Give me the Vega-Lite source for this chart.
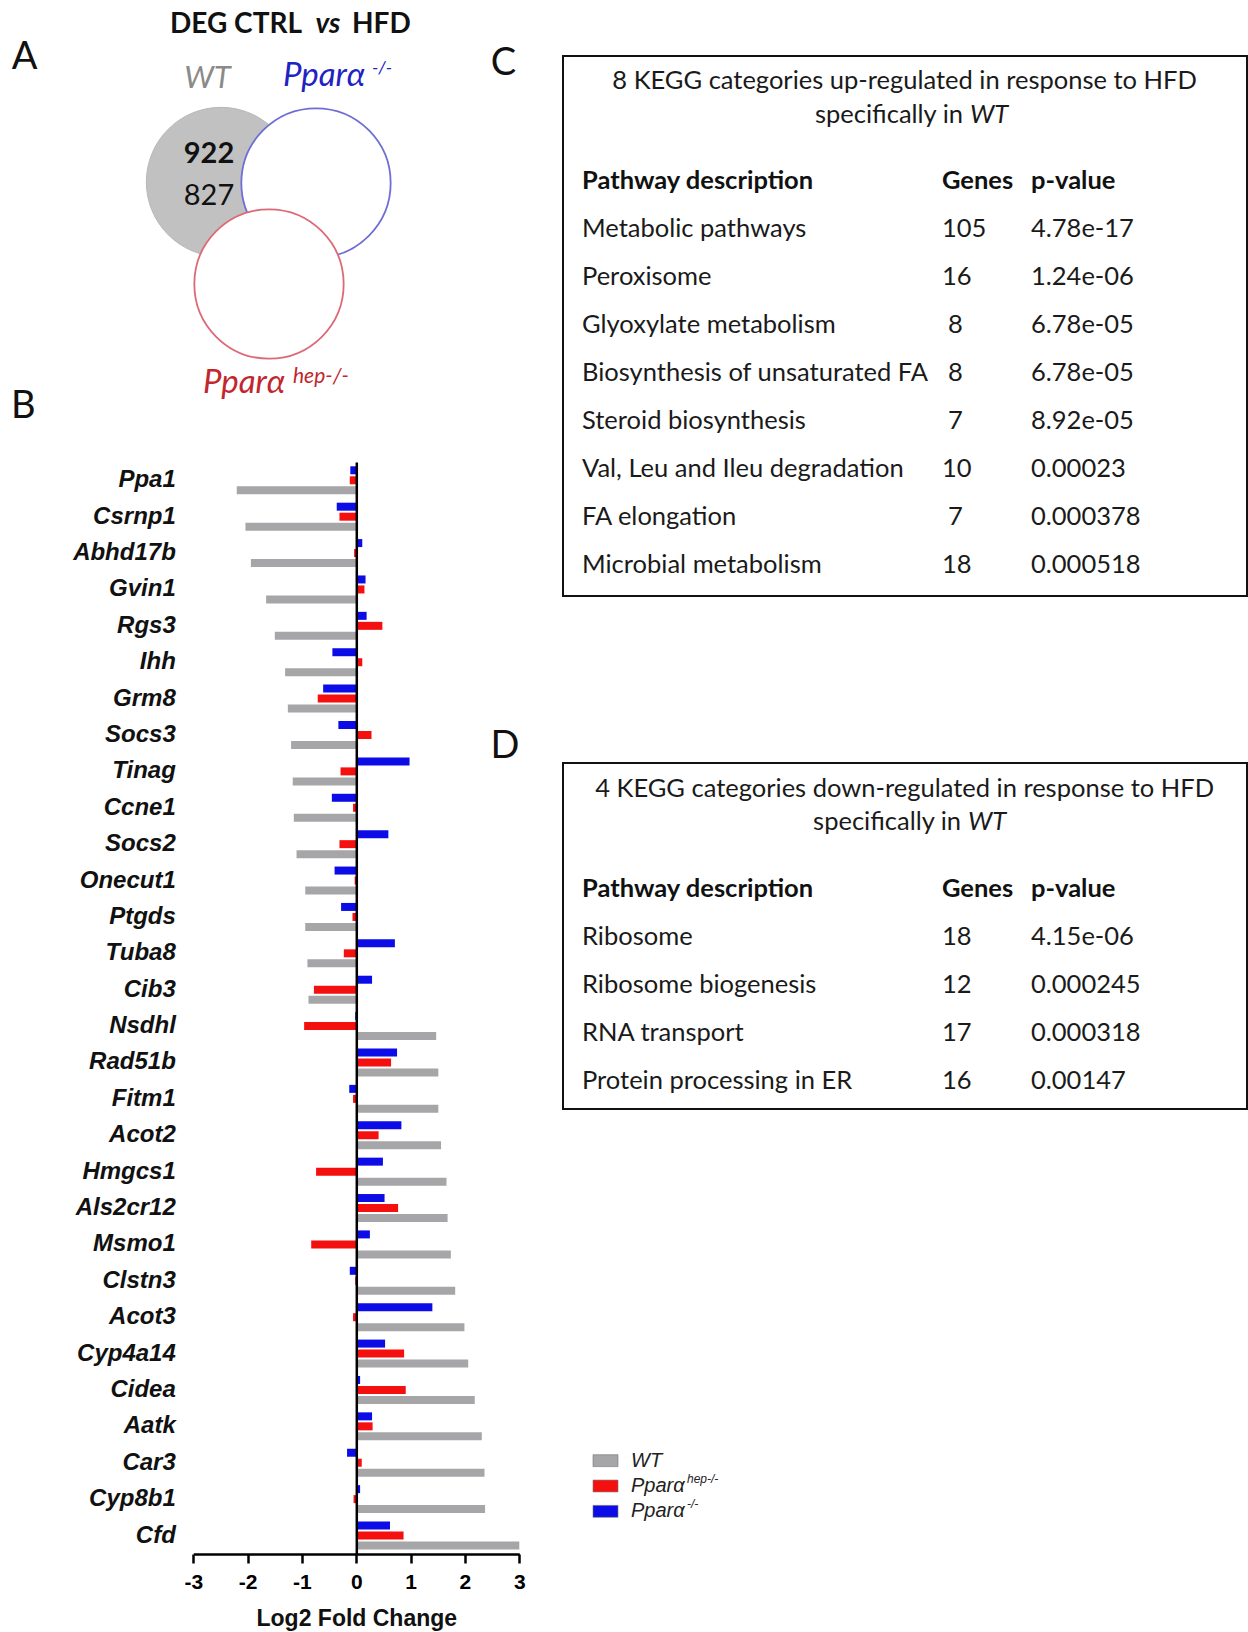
{
"$schema":"https://vega.github.io/schema/vega-lite/v6.json",
"width":1248,"height":1632,"autosize":{"type":"none"},"padding":0,"background":"#ffffff",
"config":{"view":{"stroke":null},"text":{"font":"Lato"}},
"datasets":{
"venn":[{"set":"WT","up":922,"down":827},{"set":"Pparα -/-"},{"set":"Pparα hep-/-"}],
"lfc":[
{"gene":"Ppa1","series":"WT","lfc":-2.2},{"gene":"Ppa1","series":"Pparα hep-/-","lfc":-0.12},{"gene":"Ppa1","series":"Pparα -/-","lfc":-0.11},
{"gene":"Csrnp1","series":"WT","lfc":-2.04},{"gene":"Csrnp1","series":"Pparα hep-/-","lfc":-0.31},{"gene":"Csrnp1","series":"Pparα -/-","lfc":-0.36},
{"gene":"Abhd17b","series":"WT","lfc":-1.94},{"gene":"Abhd17b","series":"Pparα hep-/-","lfc":-0.04},{"gene":"Abhd17b","series":"Pparα -/-","lfc":0.11},
{"gene":"Gvin1","series":"WT","lfc":-1.66},{"gene":"Gvin1","series":"Pparα hep-/-","lfc":0.15},{"gene":"Gvin1","series":"Pparα -/-","lfc":0.17},
{"gene":"Rgs3","series":"WT","lfc":-1.5},{"gene":"Rgs3","series":"Pparα hep-/-","lfc":0.48},{"gene":"Rgs3","series":"Pparα -/-","lfc":0.19},
{"gene":"Ihh","series":"WT","lfc":-1.31},{"gene":"Ihh","series":"Pparα hep-/-","lfc":0.11},{"gene":"Ihh","series":"Pparα -/-","lfc":-0.44},
{"gene":"Grm8","series":"WT","lfc":-1.26},{"gene":"Grm8","series":"Pparα hep-/-","lfc":-0.71},{"gene":"Grm8","series":"Pparα -/-","lfc":-0.61},
{"gene":"Socs3","series":"WT","lfc":-1.2},{"gene":"Socs3","series":"Pparα hep-/-","lfc":0.28},{"gene":"Socs3","series":"Pparα -/-","lfc":-0.33},
{"gene":"Tinag","series":"WT","lfc":-1.17},{"gene":"Tinag","series":"Pparα hep-/-","lfc":-0.29},{"gene":"Tinag","series":"Pparα -/-","lfc":0.98},
{"gene":"Ccne1","series":"WT","lfc":-1.15},{"gene":"Ccne1","series":"Pparα hep-/-","lfc":-0.06},{"gene":"Ccne1","series":"Pparα -/-","lfc":-0.45},
{"gene":"Socs2","series":"WT","lfc":-1.1},{"gene":"Socs2","series":"Pparα hep-/-","lfc":-0.31},{"gene":"Socs2","series":"Pparα -/-","lfc":0.59},
{"gene":"Onecut1","series":"WT","lfc":-0.94},{"gene":"Onecut1","series":"Pparα hep-/-","lfc":-0.03},{"gene":"Onecut1","series":"Pparα -/-","lfc":-0.4},
{"gene":"Ptgds","series":"WT","lfc":-0.94},{"gene":"Ptgds","series":"Pparα hep-/-","lfc":-0.07},{"gene":"Ptgds","series":"Pparα -/-","lfc":-0.28},
{"gene":"Tuba8","series":"WT","lfc":-0.9},{"gene":"Tuba8","series":"Pparα hep-/-","lfc":-0.23},{"gene":"Tuba8","series":"Pparα -/-","lfc":0.71},
{"gene":"Cib3","series":"WT","lfc":-0.88},{"gene":"Cib3","series":"Pparα hep-/-","lfc":-0.78},{"gene":"Cib3","series":"Pparα -/-","lfc":0.29},
{"gene":"Nsdhl","series":"WT","lfc":1.47},{"gene":"Nsdhl","series":"Pparα hep-/-","lfc":-0.96},{"gene":"Nsdhl","series":"Pparα -/-","lfc":-0.02},
{"gene":"Rad51b","series":"WT","lfc":1.51},{"gene":"Rad51b","series":"Pparα hep-/-","lfc":0.64},{"gene":"Rad51b","series":"Pparα -/-","lfc":0.75},
{"gene":"Fitm1","series":"WT","lfc":1.51},{"gene":"Fitm1","series":"Pparα hep-/-","lfc":-0.06},{"gene":"Fitm1","series":"Pparα -/-","lfc":-0.13},
{"gene":"Acot2","series":"WT","lfc":1.56},{"gene":"Acot2","series":"Pparα hep-/-","lfc":0.41},{"gene":"Acot2","series":"Pparα -/-","lfc":0.83},
{"gene":"Hmgcs1","series":"WT","lfc":1.66},{"gene":"Hmgcs1","series":"Pparα hep-/-","lfc":-0.74},{"gene":"Hmgcs1","series":"Pparα -/-","lfc":0.49},
{"gene":"Als2cr12","series":"WT","lfc":1.68},{"gene":"Als2cr12","series":"Pparα hep-/-","lfc":0.77},{"gene":"Als2cr12","series":"Pparα -/-","lfc":0.52},
{"gene":"Msmo1","series":"WT","lfc":1.74},{"gene":"Msmo1","series":"Pparα hep-/-","lfc":-0.83},{"gene":"Msmo1","series":"Pparα -/-","lfc":0.25},
{"gene":"Clstn3","series":"WT","lfc":1.82},{"gene":"Clstn3","series":"Pparα hep-/-","lfc":-0.02},{"gene":"Clstn3","series":"Pparα -/-","lfc":-0.12},
{"gene":"Acot3","series":"WT","lfc":1.99},{"gene":"Acot3","series":"Pparα hep-/-","lfc":-0.06},{"gene":"Acot3","series":"Pparα -/-","lfc":1.4},
{"gene":"Cyp4a14","series":"WT","lfc":2.06},{"gene":"Cyp4a14","series":"Pparα hep-/-","lfc":0.88},{"gene":"Cyp4a14","series":"Pparα -/-","lfc":0.53},
{"gene":"Cidea","series":"WT","lfc":2.18},{"gene":"Cidea","series":"Pparα hep-/-","lfc":0.91},{"gene":"Cidea","series":"Pparα -/-","lfc":0.07},
{"gene":"Aatk","series":"WT","lfc":2.31},{"gene":"Aatk","series":"Pparα hep-/-","lfc":0.3},{"gene":"Aatk","series":"Pparα -/-","lfc":0.29},
{"gene":"Car3","series":"WT","lfc":2.36},{"gene":"Car3","series":"Pparα hep-/-","lfc":0.1},{"gene":"Car3","series":"Pparα -/-","lfc":-0.17},
{"gene":"Cyp8b1","series":"WT","lfc":2.37},{"gene":"Cyp8b1","series":"Pparα hep-/-","lfc":-0.05},{"gene":"Cyp8b1","series":"Pparα -/-","lfc":0.07},
{"gene":"Cfd","series":"WT","lfc":3.0},{"gene":"Cfd","series":"Pparα hep-/-","lfc":0.87},{"gene":"Cfd","series":"Pparα -/-","lfc":0.62}
],
"keggUp":[
{"pathway":"Metabolic pathways","genes":105,"p":"4.78e-17"},
{"pathway":"Peroxisome","genes":16,"p":"1.24e-06"},
{"pathway":"Glyoxylate metabolism","genes":8,"p":"6.78e-05"},
{"pathway":"Biosynthesis of unsaturated FA","genes":8,"p":"6.78e-05"},
{"pathway":"Steroid biosynthesis","genes":7,"p":"8.92e-05"},
{"pathway":"Val, Leu and Ileu degradation","genes":10,"p":"0.00023"},
{"pathway":"FA elongation","genes":7,"p":"0.000378"},
{"pathway":"Microbial metabolism","genes":18,"p":"0.000518"}
],
"keggDown":[
{"pathway":"Ribosome","genes":18,"p":"4.15e-06"},
{"pathway":"Ribosome biogenesis","genes":12,"p":"0.000245"},
{"pathway":"RNA transport","genes":17,"p":"0.000318"},
{"pathway":"Protein processing in ER","genes":16,"p":"0.00147"}
],
"series":[
{"series":"WT","label":"WT","sup":""},
{"series":"Pparα hep-/-","label":"Pparα","sup":"hep-/-"},
{"series":"Pparα -/-","label":"Pparα","sup":"-/-"}
]
},
"layer":[
{"data":{"name":"venn"},"layer":[
 {"transform":[{"filter":"datum.set === 'WT'"}],"mark":{"type":"circle","size":22300,"opacity":1,"fill":"#c1c1c1","stroke":"#b8b8b8","strokeWidth":1},
  "encoding":{"x":{"datum":22.1,"type":"quantitative","scale":{"domain":[0,42],"range":[0,420],"nice":false,"zero":false},"axis":null},"y":{"datum":22.8,"type":"quantitative","scale":{"domain":[0,41],"range":[410,0],"nice":false,"zero":false},"axis":null}}},
 {"transform":[{"filter":"datum.set === 'Pparα -/-'"}],"mark":{"type":"circle","size":22300,"opacity":1,"fill":"#ffffff","stroke":"#6e6ed6","strokeWidth":1.8},
  "encoding":{"x":{"datum":31.6,"type":"quantitative","scale":{"domain":[0,42],"range":[0,420],"nice":false,"zero":false},"axis":null},"y":{"datum":22.7,"type":"quantitative","scale":{"domain":[0,41],"range":[410,0],"nice":false,"zero":false},"axis":null}}},
 {"transform":[{"filter":"datum.set === 'Pparα hep-/-'"}],"mark":{"type":"circle","size":22300,"opacity":1,"fill":"#ffffff","stroke":"#dc6a76","strokeWidth":1.8},
  "encoding":{"x":{"datum":26.9,"type":"quantitative","scale":{"domain":[0,42],"range":[0,420],"nice":false,"zero":false},"axis":null},"y":{"datum":12.6,"type":"quantitative","scale":{"domain":[0,41],"range":[410,0],"nice":false,"zero":false},"axis":null}}},
 {"transform":[{"filter":"datum.set === 'WT'"}],"mark":{"type":"text","font":"Lato","fontSize":29,"fontWeight":"bold","align":"center","baseline":"alphabetic","color":"#111111"},
  "encoding":{"x":{"datum":20.9,"type":"quantitative","scale":{"domain":[0,42],"range":[0,420],"nice":false,"zero":false},"axis":null},"y":{"datum":24.67,"type":"quantitative","scale":{"domain":[0,41],"range":[410,0],"nice":false,"zero":false},"axis":null},"text":{"field":"up"}}},
 {"transform":[{"filter":"datum.set === 'WT'"}],"mark":{"type":"text","font":"Lato","fontSize":29,"align":"center","baseline":"alphabetic","color":"#111111"},
  "encoding":{"x":{"datum":20.9,"type":"quantitative","scale":{"domain":[0,42],"range":[0,420],"nice":false,"zero":false},"axis":null},"y":{"datum":20.5,"type":"quantitative","scale":{"domain":[0,41],"range":[410,0],"nice":false,"zero":false},"axis":null},"text":{"field":"down"}}},
 {"transform":[{"filter":"datum.set === 'WT'"}],"mark":{"type":"text","font":"Lato","fontSize":31,"fontStyle":"italic","align":"center","baseline":"alphabetic","color":"#8a8a8a"},
  "encoding":{"x":{"datum":20.75,"type":"quantitative","scale":{"domain":[0,42],"range":[0,420],"nice":false,"zero":false},"axis":null},"y":{"datum":32.17,"type":"quantitative","scale":{"domain":[0,41],"range":[410,0],"nice":false,"zero":false},"axis":null},"text":{"field":"set"}}},
 {"transform":[{"filter":"datum.set === 'Pparα -/-'"}],"mark":{"type":"text","font":"Lato","fontSize":33,"fontStyle":"italic","align":"left","baseline":"alphabetic","color":"#2222c2"},
  "encoding":{"x":{"datum":28.3,"type":"quantitative","scale":{"domain":[0,42],"range":[0,420],"nice":false,"zero":false},"axis":null},"y":{"datum":32.4,"type":"quantitative","scale":{"domain":[0,41],"range":[410,0],"nice":false,"zero":false},"axis":null},"text":{"value":"Pparα"}}},
 {"transform":[{"filter":"datum.set === 'Pparα -/-'"}],"mark":{"type":"text","font":"Lato","fontSize":18,"fontStyle":"italic","align":"left","baseline":"alphabetic","color":"#2222c2"},
  "encoding":{"x":{"datum":37.2,"type":"quantitative","scale":{"domain":[0,42],"range":[0,420],"nice":false,"zero":false},"axis":null},"y":{"datum":33.6,"type":"quantitative","scale":{"domain":[0,41],"range":[410,0],"nice":false,"zero":false},"axis":null},"text":{"value":"-/-"}}},
 {"transform":[{"filter":"datum.set === 'Pparα hep-/-'"}],"mark":{"type":"text","font":"Lato","fontSize":33,"fontStyle":"italic","align":"left","baseline":"alphabetic","color":"#c1272d"},
  "encoding":{"x":{"datum":20.3,"type":"quantitative","scale":{"domain":[0,42],"range":[0,420],"nice":false,"zero":false},"axis":null},"y":{"datum":1.7,"type":"quantitative","scale":{"domain":[0,41],"range":[410,0],"nice":false,"zero":false},"axis":null},"text":{"value":"Pparα"}}},
 {"transform":[{"filter":"datum.set === 'Pparα hep-/-'"}],"mark":{"type":"text","font":"Lato","fontSize":21,"fontStyle":"italic","align":"left","baseline":"alphabetic","color":"#c1272d"},
  "encoding":{"x":{"datum":29.3,"type":"quantitative","scale":{"domain":[0,42],"range":[0,420],"nice":false,"zero":false},"axis":null},"y":{"datum":2.7,"type":"quantitative","scale":{"domain":[0,41],"range":[410,0],"nice":false,"zero":false},"axis":null},"text":{"value":"hep-/-"}}},
 {"transform":[{"filter":"datum.set === 'WT'"}],"mark":{"type":"text","font":"Lato","fontSize":28,"fontWeight":"bold","align":"right","baseline":"alphabetic","color":"#111111"},
  "encoding":{"x":{"datum":30.2,"type":"quantitative","scale":{"domain":[0,42],"range":[0,420],"nice":false,"zero":false},"axis":null},"y":{"datum":37.67,"type":"quantitative","scale":{"domain":[0,41],"range":[410,0],"nice":false,"zero":false},"axis":null},"text":{"value":"DEG CTRL"}}},
 {"transform":[{"filter":"datum.set === 'WT'"}],"mark":{"type":"text","font":"Lato","fontSize":28,"fontWeight":"bold","fontStyle":"italic","align":"center","baseline":"alphabetic","color":"#111111"},
  "encoding":{"x":{"datum":32.8,"type":"quantitative","scale":{"domain":[0,42],"range":[0,420],"nice":false,"zero":false},"axis":null},"y":{"datum":37.67,"type":"quantitative","scale":{"domain":[0,41],"range":[410,0],"nice":false,"zero":false},"axis":null},"text":{"value":"vs"}}},
 {"transform":[{"filter":"datum.set === 'WT'"}],"mark":{"type":"text","font":"Lato","fontSize":28,"fontWeight":"bold","align":"left","baseline":"alphabetic","color":"#111111"},
  "encoding":{"x":{"datum":35.2,"type":"quantitative","scale":{"domain":[0,42],"range":[0,420],"nice":false,"zero":false},"axis":null},"y":{"datum":37.67,"type":"quantitative","scale":{"domain":[0,41],"range":[410,0],"nice":false,"zero":false},"axis":null},"text":{"value":"HFD"}}},
 {"transform":[{"filter":"datum.set === 'WT'"}],"mark":{"type":"text","font":"Lato","fontSize":38,"align":"center","baseline":"alphabetic","color":"#111111"},
  "encoding":{"x":{"datum":2.45,"type":"quantitative","scale":{"domain":[0,42],"range":[0,420],"nice":false,"zero":false},"axis":null},"y":{"datum":34.13,"type":"quantitative","scale":{"domain":[0,41],"range":[410,0],"nice":false,"zero":false},"axis":null},"text":{"value":"A"}}},
 {"transform":[{"filter":"datum.set === 'WT'"}],"mark":{"type":"text","font":"Lato","fontSize":38,"align":"center","baseline":"alphabetic","color":"#111111"},
  "encoding":{"x":{"datum":2.34,"type":"quantitative","scale":{"domain":[0,42],"range":[0,420],"nice":false,"zero":false},"axis":null},"y":{"datum":-0.84,"type":"quantitative","scale":{"domain":[0,41],"range":[410,0],"nice":false,"zero":false},"axis":null},"text":{"value":"B"}}}
]},
{"data":{"name":"lfc"},"mark":{"type":"bar"},
 "encoding":{
  "y":{"field":"gene","type":"nominal","sort":null,"scale":{"range":[462.1,1553.7],"paddingInner":0.176,"paddingOuter":0.088},
   "axis":{"orient":"left","offset":-356.3,"title":null,"grid":false,"domain":true,"domainColor":"#000000","domainWidth":2.5,"ticks":false,"tickSize":0,"labelPadding":181,"labelFont":"Liberation Sans","labelFontSize":24,"labelFontWeight":"bold","labelFontStyle":"italic","labelColor":"#111111","labelLimit":300,"zindex":1}},
  "yOffset":{"field":"series","type":"nominal","sort":["Pparα -/-","Pparα hep-/-","WT"],"scale":{"paddingInner":0.2,"paddingOuter":0.1}},
  "x":{"field":"lfc","type":"quantitative","scale":{"domain":[-3,3],"range":[193.3,519.3],"nice":false,"zero":false},
   "axis":{"orient":"bottom","offset":-78,"values":[-3,-2,-1,0,1,2,3],"labelExpr":"''+datum.value","labelFlush":false,"grid":false,"domainColor":"#000000","domainWidth":2.5,"tickColor":"#000000","tickWidth":2.5,"tickSize":9,"labelFont":"Liberation Sans","labelFontSize":21,"labelFontWeight":"bold","labelColor":"#000000","labelPadding":8,"title":"Log2 Fold Change","titleFont":"Liberation Sans","titleFontSize":23,"titleFontWeight":"bold","titleColor":"#111111","titlePadding":15}},
  "color":{"field":"series","type":"nominal","scale":{"domain":["WT","Pparα hep-/-","Pparα -/-"],"range":["#a6a6a8","#f51010","#0c0ce6"]},"legend":null}
 }},
{"data":{"name":"keggUp"},"transform":[{"window":[{"op":"row_number","as":"rank"}]}],"layer":[
 {"mark":{"type":"text","font":"Lato","fontSize":25.5,"align":"left","baseline":"middle","color":"#1a1a1a"},
  "encoding":{"x":{"datum":2.78,"type":"quantitative","scale":{"domain":[0,100],"range":[563,1247],"nice":false,"zero":false},"axis":null},"y":{"field":"rank","type":"quantitative","scale":{"domain":[0,1],"range":[181,229],"nice":false,"zero":false},"axis":null},"text":{"field":"pathway"}}},
 {"transform":[{"filter":"datum.genes >= 10"}],"mark":{"type":"text","font":"Lato","fontSize":25.5,"align":"left","baseline":"middle","color":"#1a1a1a"},
  "encoding":{"x":{"datum":55.41,"type":"quantitative","scale":{"domain":[0,100],"range":[563,1247],"nice":false,"zero":false},"axis":null},"y":{"field":"rank","type":"quantitative","scale":{"domain":[0,1],"range":[181,229],"nice":false,"zero":false},"axis":null},"text":{"field":"genes"}}},
 {"transform":[{"filter":"datum.genes < 10"}],"mark":{"type":"text","font":"Lato","fontSize":25.5,"align":"left","baseline":"middle","color":"#1a1a1a"},
  "encoding":{"x":{"datum":56.29,"type":"quantitative","scale":{"domain":[0,100],"range":[563,1247],"nice":false,"zero":false},"axis":null},"y":{"field":"rank","type":"quantitative","scale":{"domain":[0,1],"range":[181,229],"nice":false,"zero":false},"axis":null},"text":{"field":"genes"}}},
 {"mark":{"type":"text","font":"Lato","fontSize":25.5,"align":"left","baseline":"middle","color":"#1a1a1a"},
  "encoding":{"x":{"datum":68.42,"type":"quantitative","scale":{"domain":[0,100],"range":[563,1247],"nice":false,"zero":false},"axis":null},"y":{"field":"rank","type":"quantitative","scale":{"domain":[0,1],"range":[181,229],"nice":false,"zero":false},"axis":null},"text":{"field":"p"}}},
 {"transform":[{"filter":"datum.rank === 1"}],"mark":{"type":"text","font":"Lato","fontSize":25.5,"fontWeight":"bold","align":"left","baseline":"middle","color":"#111111"},
  "encoding":{"x":{"datum":2.78,"type":"quantitative","scale":{"domain":[0,100],"range":[563,1247],"nice":false,"zero":false},"axis":null},"y":{"datum":0,"type":"quantitative","scale":{"domain":[0,1],"range":[181,229],"nice":false,"zero":false},"axis":null},"text":{"value":"Pathway description"}}},
 {"transform":[{"filter":"datum.rank === 1"}],"mark":{"type":"text","font":"Lato","fontSize":25.5,"fontWeight":"bold","align":"left","baseline":"middle","color":"#111111"},
  "encoding":{"x":{"datum":55.41,"type":"quantitative","scale":{"domain":[0,100],"range":[563,1247],"nice":false,"zero":false},"axis":null},"y":{"datum":0,"type":"quantitative","scale":{"domain":[0,1],"range":[181,229],"nice":false,"zero":false},"axis":null},"text":{"value":"Genes"}}},
 {"transform":[{"filter":"datum.rank === 1"}],"mark":{"type":"text","font":"Lato","fontSize":25.5,"fontWeight":"bold","align":"left","baseline":"middle","color":"#111111"},
  "encoding":{"x":{"datum":68.42,"type":"quantitative","scale":{"domain":[0,100],"range":[563,1247],"nice":false,"zero":false},"axis":null},"y":{"datum":0,"type":"quantitative","scale":{"domain":[0,1],"range":[181,229],"nice":false,"zero":false},"axis":null},"text":{"value":"p-value"}}},
 {"transform":[{"filter":"datum.rank === 1"}],"mark":{"type":"text","font":"Lato","fontSize":25.5,"align":"center","baseline":"middle","color":"#1a1a1a"},
  "encoding":{"x":{"datum":49.94,"type":"quantitative","scale":{"domain":[0,100],"range":[563,1247],"nice":false,"zero":false},"axis":null},"y":{"datum":-2.083,"type":"quantitative","scale":{"domain":[0,1],"range":[181,229],"nice":false,"zero":false},"axis":null},"text":{"value":"8 KEGG categories up-regulated in response to HFD"}}},
 {"transform":[{"filter":"datum.rank === 1"}],"mark":{"type":"text","font":"Lato","fontSize":25.5,"align":"right","baseline":"middle","color":"#1a1a1a"},
  "encoding":{"x":{"datum":58.48,"type":"quantitative","scale":{"domain":[0,100],"range":[563,1247],"nice":false,"zero":false},"axis":null},"y":{"datum":-1.385,"type":"quantitative","scale":{"domain":[0,1],"range":[181,229],"nice":false,"zero":false},"axis":null},"text":{"value":"specifically in"}}},
 {"transform":[{"filter":"datum.rank === 1"}],"mark":{"type":"text","font":"Lato","fontSize":25.5,"fontStyle":"italic","align":"left","baseline":"middle","color":"#1a1a1a"},
  "encoding":{"x":{"datum":59.5,"type":"quantitative","scale":{"domain":[0,100],"range":[563,1247],"nice":false,"zero":false},"axis":null},"y":{"datum":-1.385,"type":"quantitative","scale":{"domain":[0,1],"range":[181,229],"nice":false,"zero":false},"axis":null},"text":{"value":"WT"}}},
 {"transform":[{"filter":"datum.rank === 1"}],"mark":{"type":"rect","fillOpacity":0,"stroke":"#111111","strokeWidth":2},
  "encoding":{"x":{"datum":0,"type":"quantitative","scale":{"domain":[0,100],"range":[563,1247],"nice":false,"zero":false},"axis":null},"x2":{"datum":100},"y":{"datum":-2.604,"type":"quantitative","scale":{"domain":[0,1],"range":[181,229],"nice":false,"zero":false},"axis":null},"y2":{"datum":8.646}}},
 {"transform":[{"filter":"datum.rank === 1"}],"mark":{"type":"text","font":"Lato","fontSize":38,"align":"center","baseline":"alphabetic","color":"#111111"},
  "encoding":{"x":{"datum":-8.7,"type":"quantitative","scale":{"domain":[0,100],"range":[563,1247],"nice":false,"zero":false},"axis":null},"y":{"datum":-2.208,"type":"quantitative","scale":{"domain":[0,1],"range":[181,229],"nice":false,"zero":false},"axis":null},"text":{"value":"C"}}}
]},
{"data":{"name":"keggDown"},"transform":[{"window":[{"op":"row_number","as":"rank"}]}],"layer":[
 {"mark":{"type":"text","font":"Lato","fontSize":25.5,"align":"left","baseline":"middle","color":"#1a1a1a"},
  "encoding":{"x":{"datum":2.78,"type":"quantitative","scale":{"domain":[0,100],"range":[563,1247],"nice":false,"zero":false},"axis":null},"y":{"field":"rank","type":"quantitative","scale":{"domain":[0,1],"range":[889,937],"nice":false,"zero":false},"axis":null},"text":{"field":"pathway"}}},
 {"mark":{"type":"text","font":"Lato","fontSize":25.5,"align":"left","baseline":"middle","color":"#1a1a1a"},
  "encoding":{"x":{"datum":55.41,"type":"quantitative","scale":{"domain":[0,100],"range":[563,1247],"nice":false,"zero":false},"axis":null},"y":{"field":"rank","type":"quantitative","scale":{"domain":[0,1],"range":[889,937],"nice":false,"zero":false},"axis":null},"text":{"field":"genes"}}},
 {"mark":{"type":"text","font":"Lato","fontSize":25.5,"align":"left","baseline":"middle","color":"#1a1a1a"},
  "encoding":{"x":{"datum":68.42,"type":"quantitative","scale":{"domain":[0,100],"range":[563,1247],"nice":false,"zero":false},"axis":null},"y":{"field":"rank","type":"quantitative","scale":{"domain":[0,1],"range":[889,937],"nice":false,"zero":false},"axis":null},"text":{"field":"p"}}},
 {"transform":[{"filter":"datum.rank === 1"}],"mark":{"type":"text","font":"Lato","fontSize":25.5,"fontWeight":"bold","align":"left","baseline":"middle","color":"#111111"},
  "encoding":{"x":{"datum":2.78,"type":"quantitative","scale":{"domain":[0,100],"range":[563,1247],"nice":false,"zero":false},"axis":null},"y":{"datum":0,"type":"quantitative","scale":{"domain":[0,1],"range":[889,937],"nice":false,"zero":false},"axis":null},"text":{"value":"Pathway description"}}},
 {"transform":[{"filter":"datum.rank === 1"}],"mark":{"type":"text","font":"Lato","fontSize":25.5,"fontWeight":"bold","align":"left","baseline":"middle","color":"#111111"},
  "encoding":{"x":{"datum":55.41,"type":"quantitative","scale":{"domain":[0,100],"range":[563,1247],"nice":false,"zero":false},"axis":null},"y":{"datum":0,"type":"quantitative","scale":{"domain":[0,1],"range":[889,937],"nice":false,"zero":false},"axis":null},"text":{"value":"Genes"}}},
 {"transform":[{"filter":"datum.rank === 1"}],"mark":{"type":"text","font":"Lato","fontSize":25.5,"fontWeight":"bold","align":"left","baseline":"middle","color":"#111111"},
  "encoding":{"x":{"datum":68.42,"type":"quantitative","scale":{"domain":[0,100],"range":[563,1247],"nice":false,"zero":false},"axis":null},"y":{"datum":0,"type":"quantitative","scale":{"domain":[0,1],"range":[889,937],"nice":false,"zero":false},"axis":null},"text":{"value":"p-value"}}},
 {"transform":[{"filter":"datum.rank === 1"}],"mark":{"type":"text","font":"Lato","fontSize":25.5,"align":"center","baseline":"middle","color":"#1a1a1a"},
  "encoding":{"x":{"datum":49.94,"type":"quantitative","scale":{"domain":[0,100],"range":[563,1247],"nice":false,"zero":false},"axis":null},"y":{"datum":-2.083,"type":"quantitative","scale":{"domain":[0,1],"range":[889,937],"nice":false,"zero":false},"axis":null},"text":{"value":"4 KEGG categories down-regulated in response to HFD"}}},
 {"transform":[{"filter":"datum.rank === 1"}],"mark":{"type":"text","font":"Lato","fontSize":25.5,"align":"right","baseline":"middle","color":"#1a1a1a"},
  "encoding":{"x":{"datum":58.2,"type":"quantitative","scale":{"domain":[0,100],"range":[563,1247],"nice":false,"zero":false},"axis":null},"y":{"datum":-1.396,"type":"quantitative","scale":{"domain":[0,1],"range":[889,937],"nice":false,"zero":false},"axis":null},"text":{"value":"specifically in"}}},
 {"transform":[{"filter":"datum.rank === 1"}],"mark":{"type":"text","font":"Lato","fontSize":25.5,"fontStyle":"italic","align":"left","baseline":"middle","color":"#1a1a1a"},
  "encoding":{"x":{"datum":59.2,"type":"quantitative","scale":{"domain":[0,100],"range":[563,1247],"nice":false,"zero":false},"axis":null},"y":{"datum":-1.396,"type":"quantitative","scale":{"domain":[0,1],"range":[889,937],"nice":false,"zero":false},"axis":null},"text":{"value":"WT"}}},
 {"transform":[{"filter":"datum.rank === 1"}],"mark":{"type":"rect","fillOpacity":0,"stroke":"#111111","strokeWidth":2},
  "encoding":{"x":{"datum":0,"type":"quantitative","scale":{"domain":[0,100],"range":[563,1247],"nice":false,"zero":false},"axis":null},"x2":{"datum":100},"y":{"datum":-2.625,"type":"quantitative","scale":{"domain":[0,1],"range":[889,937],"nice":false,"zero":false},"axis":null},"y2":{"datum":4.583}}},
 {"transform":[{"filter":"datum.rank === 1"}],"mark":{"type":"text","font":"Lato","fontSize":38,"align":"center","baseline":"alphabetic","color":"#111111"},
  "encoding":{"x":{"datum":-8.48,"type":"quantitative","scale":{"domain":[0,100],"range":[563,1247],"nice":false,"zero":false},"axis":null},"y":{"datum":-2.733,"type":"quantitative","scale":{"domain":[0,1],"range":[889,937],"nice":false,"zero":false},"axis":null},"text":{"value":"D"}}}
]},
{"data":{"name":"series"},"layer":[
 {"mark":{"type":"rect","stroke":"#777777","strokeWidth":0.6},
  "encoding":{"x":{"datum":0,"type":"quantitative","scale":{"domain":[0,1],"range":[593,618],"nice":false,"zero":false},"axis":null},"x2":{"datum":1},
   "y":{"field":"series","type":"nominal","sort":null,"scale":{"domain":["WT","Pparα hep-/-","Pparα -/-"],"range":[1448,1524],"paddingInner":0.53,"paddingOuter":0.265},"axis":null},
   "color":{"field":"series","type":"nominal","scale":{"domain":["WT","Pparα hep-/-","Pparα -/-"],"range":["#a6a6a8","#f51010","#0c0ce6"]},"legend":null}}},
 {"mark":{"type":"text","font":"Liberation Sans","fontSize":20,"fontStyle":"italic","align":"left","baseline":"middle","color":"#222222"},
  "encoding":{"x":{"datum":1.52,"type":"quantitative","scale":{"domain":[0,1],"range":[593,618],"nice":false,"zero":false},"axis":null},
   "y":{"field":"series","type":"nominal","sort":null,"scale":{"domain":["WT","Pparα hep-/-","Pparα -/-"],"range":[1448,1524],"paddingInner":0.53,"paddingOuter":0.265},"axis":null},"text":{"field":"label"}}},
 {"mark":{"type":"text","font":"Liberation Sans","fontSize":12,"fontStyle":"italic","align":"left","baseline":"middle","dy":-7,"color":"#222222"},
  "encoding":{"x":{"datum":3.76,"type":"quantitative","scale":{"domain":[0,1],"range":[593,618],"nice":false,"zero":false},"axis":null},
   "y":{"field":"series","type":"nominal","sort":null,"scale":{"domain":["WT","Pparα hep-/-","Pparα -/-"],"range":[1448,1524],"paddingInner":0.53,"paddingOuter":0.265},"axis":null},"text":{"field":"sup"}}}
]}
],
"resolve":{"scale":{"x":"independent","y":"independent","color":"independent","yOffset":"independent"},"axis":{"x":"independent","y":"independent"}}
}
